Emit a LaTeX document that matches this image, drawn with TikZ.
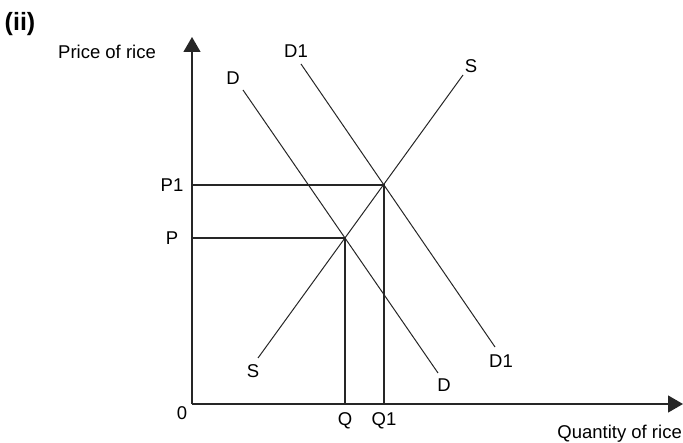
\documentclass[tikz,border=0pt]{standalone}
\usepackage{fontspec}
\setmainfont{Liberation Sans}
\usetikzlibrary{arrows.meta, positioning}

\tikzset{
  curve/.style={line width=1bp, draw=black!85},
  guide/.style={line width=1.1bp, draw=black!85},
  axis/.style={line width=1.3bp, draw=black!85, -{Triangle[length=15bp,width=17bp]}},
  lbl/.style={inner sep=0pt, font=\fontsize{18.5bp}{21bp}\selectfont},
}

\begin{document}
\begin{tikzpicture}[x=1bp, y=-1bp]
    \useasboundingbox (0,0) rectangle (683,443);

    % Axes
    \coordinate (O) at (192,404);
    \coordinate (ytop) at (192,37);
    \coordinate (xend) at (683,404);
    \draw[axis] (O) -- (ytop);
    \draw[axis] (O) -- (xend);

    \node[lbl, font=\fontsize{25bp}{28bp}\selectfont\bfseries] (part) at (20,24) {(ii)};
    \node[lbl] (ylab) at (107,52) {Price of rice};
    \node[lbl, anchor=base east] (xlab) at (682,438) {Quantity of rice};
    \node[lbl] (zero) at (182,413) {0};

    % Supply and demand curves
    \coordinate (S0) at (258,358);
    \coordinate (S1) at (463,75);
    \coordinate (D0) at (243,90);
    \coordinate (D1) at (438,373);
    \coordinate (DD0) at (301,64);
    \coordinate (DD1) at (495,347);
    \draw[curve] (S0) -- (S1);
    \draw[curve] (D0) -- (D1);
    \draw[curve] (DD0) -- (DD1);

    \node[lbl] (slow) at (253,371) {S};
    \node[lbl] (shigh) at (471,66) {S};
    \node[lbl] (dhigh) at (233,78) {D};
    \node[lbl] (dlow) at (444,385) {D};
    \node[lbl] (d1high) at (296,51) {D1};
    \node[lbl] (d1low) at (501,361) {D1};

    % Equilibrium before and after
    \coordinate (E) at (345,238);
    \coordinate (E1) at (384,185);
    \draw[guide] (O |- E) -- (E) -- (E |- O);
    \draw[guide] (O |- E1) -- (E1) -- (E1 |- O);

    \node[lbl] (p) at (172,238) {P};
    \node[lbl] (p1) at (172,185) {P1};
    \node[lbl] (q) at (345,421) {Q};
    \node[lbl] (q1) at (384,421) {Q1};
\end{tikzpicture}
\end{document}
